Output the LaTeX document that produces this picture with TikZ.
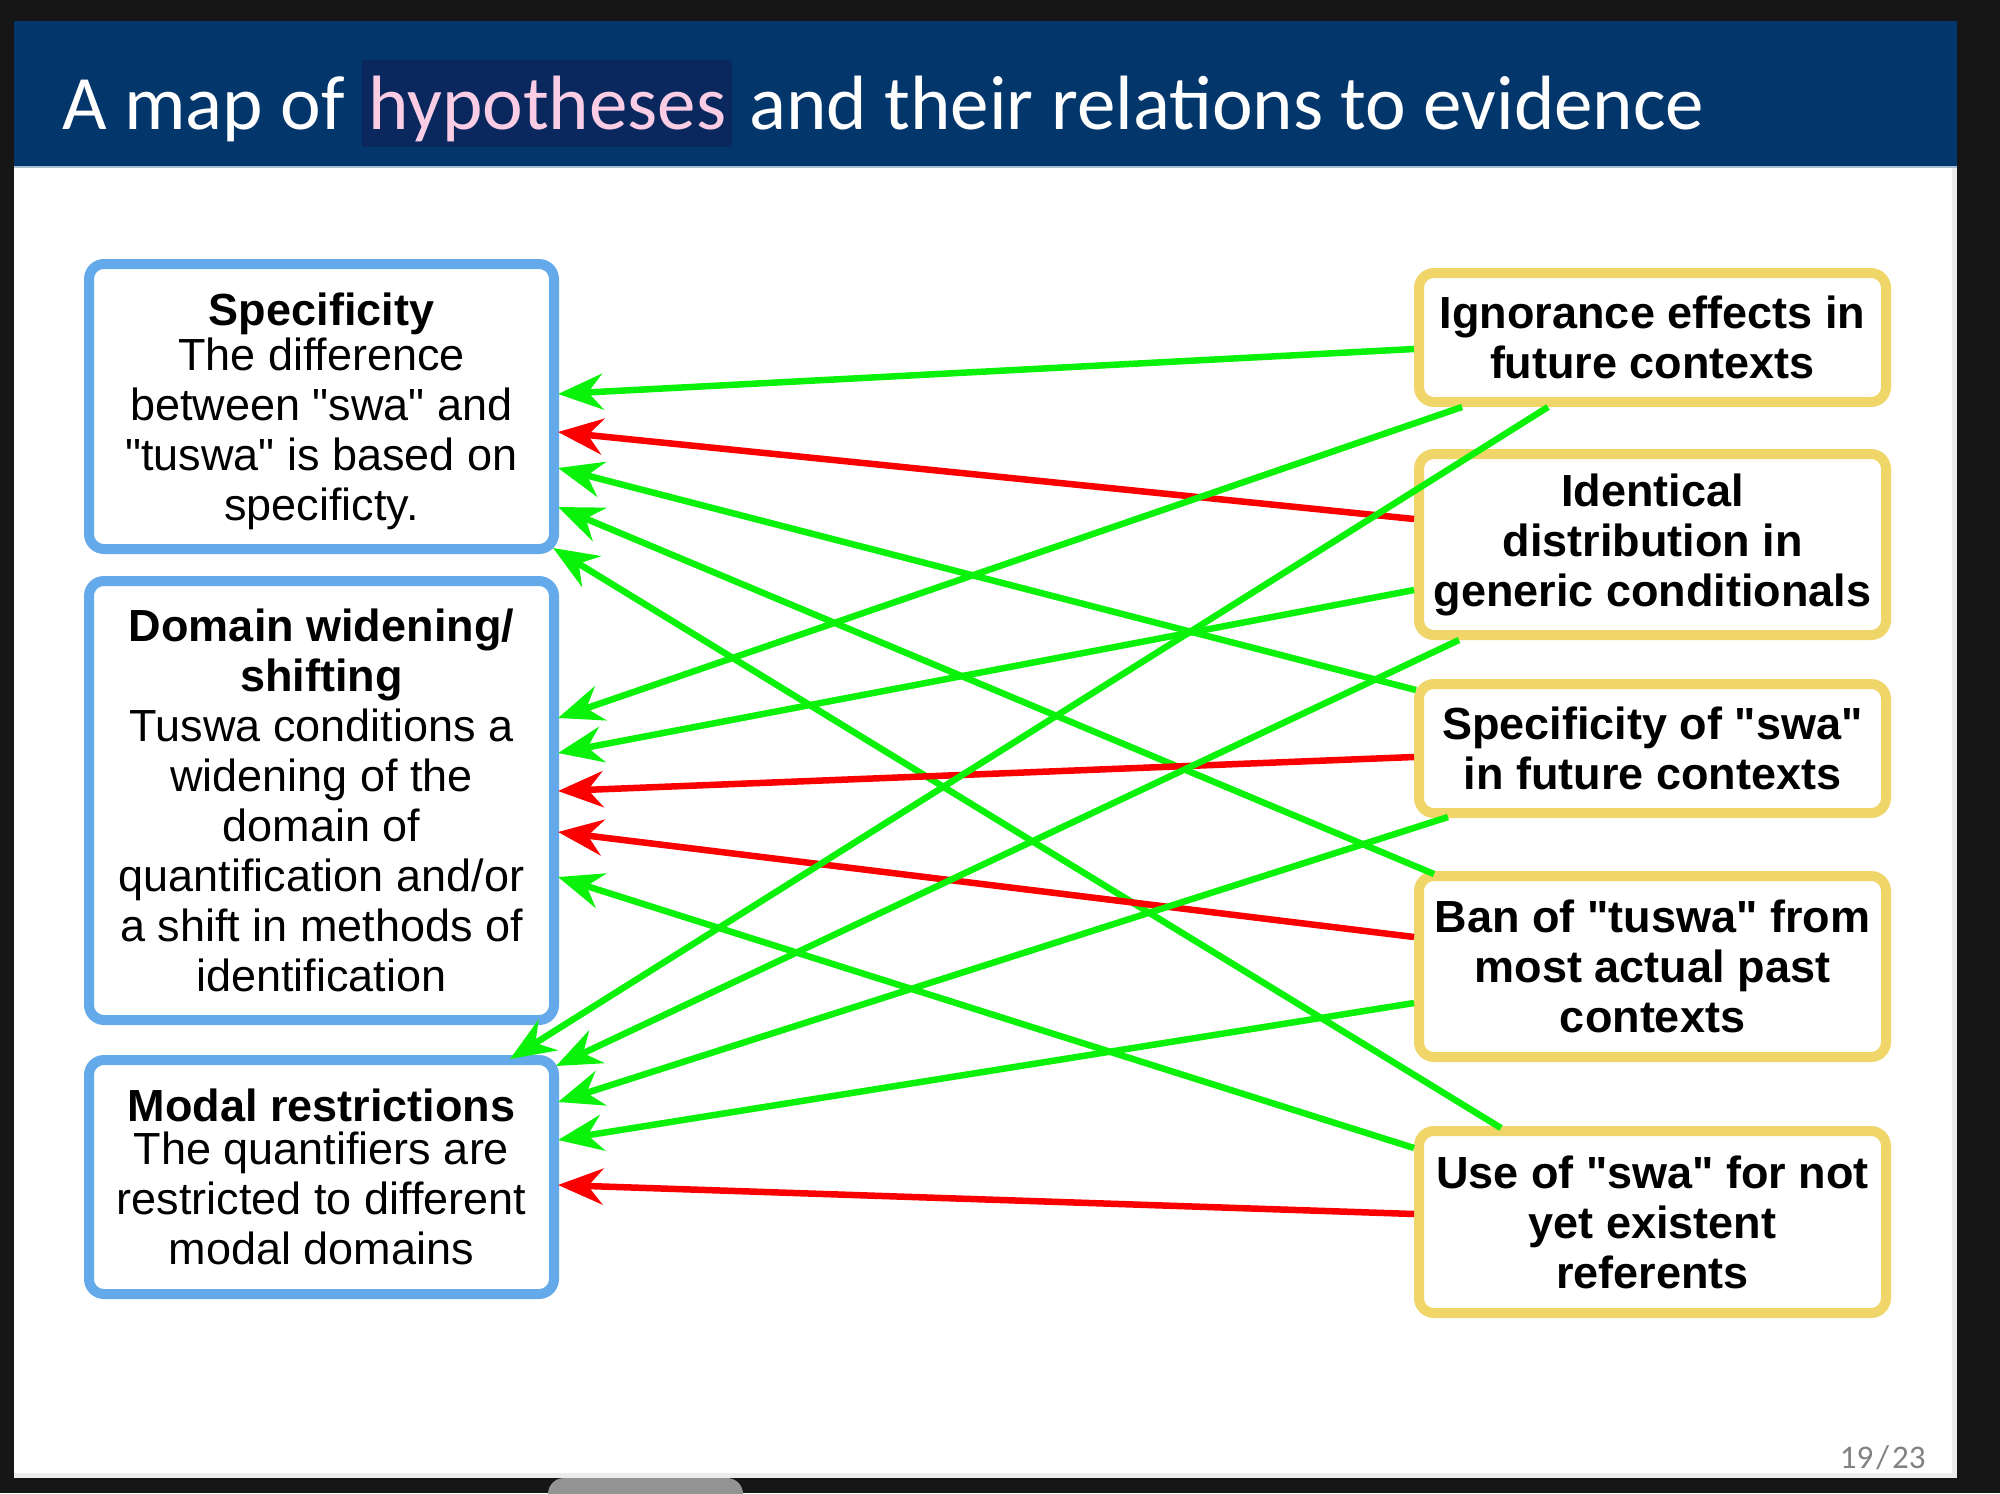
\documentclass[tikz,border=0pt]{standalone}
\usepackage{fontspec}
\setmainfont{Liberation Sans}
\newfontfamily\titlefont{Carlito}
\usetikzlibrary{arrows.meta,calc}
\newcommand{\dq}{\textquotedbl}
\definecolor{bgdark}{RGB}{22,22,22}
\definecolor{slideedge}{RGB}{236,236,236}
\definecolor{titlebar}{RGB}{3,54,107}
\definecolor{titleline}{RGB}{170,190,210}
\definecolor{hl}{RGB}{10,40,94}
\definecolor{pinkt}{RGB}{250,205,228}
\definecolor{hypblue}{RGB}{100,170,235}
\definecolor{evdyellow}{RGB}{240,213,105}
\definecolor{arrgreen}{RGB}{10,242,10}
\definecolor{arrred}{RGB}{250,0,0}
\definecolor{pagegray}{RGB}{130,130,130}
\definecolor{tabgray}{RGB}{147,147,147}
\tikzset{
  hyp/.style={draw=hypblue, line width=5pt, rounded corners=7.5pt, fill=white,
    minimum width=232.5pt, inner sep=0pt, outer sep=0pt, align=center,
    font=\fontsize{22.5}{25}\selectfont},
  evd/.style={draw=evdyellow, line width=5pt, rounded corners=7.5pt, fill=white,
    minimum width=233.5pt, inner sep=0pt, outer sep=0pt, align=center,
    font=\bfseries\fontsize{22.5}{25}\selectfont},
  conn/.style={line width=3.25pt, -{Stealth[length=22.5pt,width=18pt,inset=7.5pt]}},
  garr/.style={conn, draw=arrgreen, fill=arrgreen},
  rarr/.style={conn, draw=arrred, fill=arrred}
}
\begin{document}
\begin{tikzpicture}[x=0.5pt,y=-0.5pt]
\useasboundingbox (0,0) rectangle (2000,1493);
\begin{scope}
\clip (0,0) rectangle (2000,1493);
\fill[bgdark] (0,0) rectangle (2000,1493);
\fill[slideedge] (14,21) rectangle (1957,1478);
\fill[white] (14,21) rectangle (1952,1473);
\fill[titlebar] (14,21) rectangle (1957,167);
\draw[titleline, line width=1pt] (14,167) -- (1957,167);
\fill[tabgray, rounded corners=8pt] (548,1478) rectangle (743,1520);
\end{scope}

\node[anchor=base west, inner sep=0pt, text=white,
  font=\titlefont\fontsize{38.5}{44}\selectfont] (title) at (62,129)
  {A map of \setlength{\fboxsep}{3pt}\colorbox{hl}{\rule[-5pt]{0pt}{36.5pt}\textcolor{pinkt}{hypotheses}} and their relations to evidence};

\node[anchor=base east, inner sep=0pt, text=pagegray,
  font=\titlefont\fontsize{16.5}{18}\selectfont] (pg) at (1926,1468) {19\kern1.5pt/\kern1.5pt23};

% hypotheses
\node[hyp, minimum height=142.5pt] (B1) at (321.5,406.5)
  {\rule{0pt}{21.5pt}\textbf{Specificity}\\[-2.5pt]The difference\\between \dq swa\dq{} and\\\dq tuswa\dq{} is based on\\specificty.};
\node[hyp, minimum height=219.5pt] (B2) at (321.5,800.5)
  {\textbf{Domain widening/}\\\textbf{shifting}\\Tuswa conditions a\\widening of the\\domain of\\quantification and/or\\a shift in methods of\\identification};
\node[hyp, minimum height=117pt] (B3) at (321.5,1177)
  {\textbf{Modal restrictions}\\[-3.5pt]The quantifiers are\\restricted to different\\modal domains};

% evidence
\node[evd, minimum height=64.5pt] (R1) at (1652.5,337.5) {Ignorance effects in\\future contexts};
\node[evd, minimum height=90.5pt] (R2) at (1652.5,544.5) {Identical\\distribution in\\generic conditionals};
\node[evd, minimum height=64.5pt] (R3) at (1652.5,748.5) {Specificity of \dq swa\dq\\in future contexts};
\node[evd, minimum height=90.5pt] (R4) at (1652.5,966.5) {Ban of \dq tuswa\dq{} from\\most actual past\\contexts};
\node[evd, minimum height=91pt] (R5) at (1652.5,1222) {Use of \dq swa\dq{} for not\\yet existent\\referents};

% connectors
\draw[garr] ($(R1.west)+(-5,11.5)$) -- ($(B1.east)+(4,-12.5)$);
\draw[rarr] ($(R2.west)+(-5,-25.5)$) -- ($(B1.east)+(4,25.5)$);
\draw[garr] ($(R3.north west)+(-3,6)$) -- ($(B1.east)+(4,61.5)$);
\draw[garr] ($(R4.north west)+(15,-2)$) -- ($(B1.east)+(4,100.5)$);
\draw[garr] ($(R5.north west)+(82,-3)$) -- ($(B1.south east)+(-1,-1)$);
\draw[garr] ($(R1.south west)+(43,5)$) -- ($(B2.east)+(4,-82.5)$);
\draw[garr] ($(R2.west)+(-5,45.5)$) -- ($(B2.east)+(4,-47.5)$);
\draw[rarr] ($(R3.west)+(-5,8.5)$) -- ($(B2.east)+(4,-9.5)$);
\draw[rarr] ($(R4.west)+(-5,-29.5)$) -- ($(B2.east)+(4,31.5)$);
\draw[garr] ($(R5.west)+(-5,-74)$) -- ($(B2.east)+(4,76.5)$);
\draw[garr] ($(R1.south west)+(129,5)$) -- ($(B3.north east)+(-44,-1)$);
\draw[garr] ($(R2.south west)+(40,5)$) -- ($(B3.north east)+(2,6)$);
\draw[garr] ($(R3.south west)+(29,4)$) -- ($(B3.east)+(4,-75)$);
\draw[garr] ($(R4.west)+(-5,36.5)$) -- ($(B3.east)+(4,-37)$);
\draw[rarr] ($(R5.west)+(-5,-8)$) -- ($(B3.east)+(4,8)$);
\end{tikzpicture}
\end{document}
